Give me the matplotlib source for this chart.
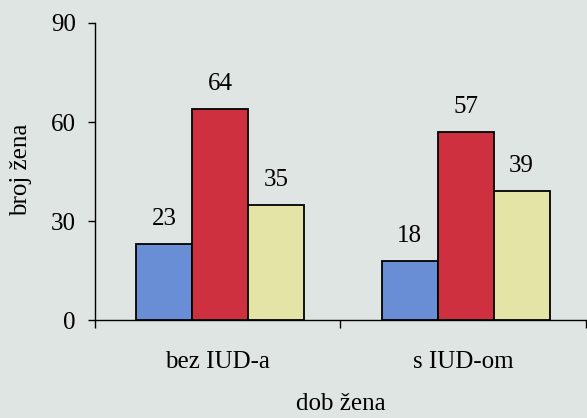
import matplotlib.pyplot as plt
import numpy as np

# data
groups = ['bez IUD-a', 's IUD-om']
series_a = [23, 18]
series_b = [64, 57]
series_c = [35, 39]
colors = ['#6a8ed6', '#cf3040', '#e3e4a6']

plt.rcParams['font.family'] = ['Liberation Serif', 'DejaVu Serif']
bg = '#dfe5e2'
fs = 18

fig = plt.figure(figsize=(5.87, 4.18), dpi=100, facecolor=bg)
ax = fig.add_axes([0.162, 0.234, 0.836, 0.711], facecolor=bg)

centers = np.arange(len(groups)) + 0.5
w = 0.228
for i, (vals, col) in enumerate(zip([series_a, series_b, series_c], colors)):
    xs = centers + (i - 1) * w + 0.01
    ax.bar(xs, vals, width=w, color=col, edgecolor='black', linewidth=1.3, zorder=3)
    for x, v in zip(xs, vals):
        ax.annotate(str(v), (x, v), xytext=(0, 18), textcoords='offset points',
                    ha='center', va='center', fontsize=fs)

ax.set_xlim(0, 2)
ax.set_ylim(0, 90)
ax.set_yticks([0, 30, 60, 90])
ax.tick_params(axis='y', labelsize=fs, length=5, width=1, pad=9, direction='out')

ax.set_xticks([0, 1, 2])
ax.set_xticklabels([])
ax.tick_params(axis='x', which='major', length=6, width=1, direction='out')
ax.set_xticks(centers, minor=True)
ax.set_xticklabels(groups, minor=True, fontsize=fs)
ax.tick_params(axis='x', which='minor', length=0, pad=22)

for s in ['top', 'right']:
    ax.spines[s].set_visible(False)
ax.spines['left'].set_linewidth(1)
ax.spines['bottom'].set_linewidth(1)

fig.text(21 / 587, 1 - 170 / 418, 'broj žena', rotation=90, ha='center', va='center', fontsize=fs)
fig.text(341 / 587, 1 - 404 / 418, 'dob žena', ha='center', va='center', fontsize=fs)

fig.savefig('out.png', dpi=100, facecolor=bg)
